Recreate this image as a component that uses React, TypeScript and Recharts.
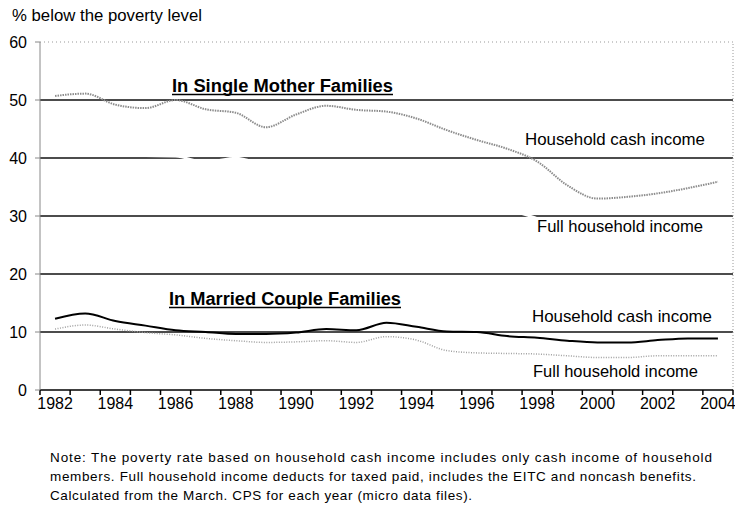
import { LineChart, Line, XAxis, YAxis, CartesianGrid, ReferenceLine } from 'recharts'

const years = [1982, 1983, 1984, 1985, 1986, 1987, 1988, 1989, 1990, 1991, 1992, 1993, 1994, 1995, 1996, 1997, 1998, 1999, 2000, 2001, 2002, 2003, 2004]
const singleCash = [50.7, 51.1, 49.2, 48.6, 50.0, 48.4, 47.8, 45.3, 47.5, 49.0, 48.3, 48.0, 46.8, 44.8, 43.1, 41.6, 39.4, 35.3, 33.0, 33.3, 33.9, 34.8, 35.9]
// drawn in white in the original, only visible where it cuts the gridlines
const singleFull = [41.0, 40.8, 40.4, 40.4, 40.3, 39.3, 40.0, 38.8, 38.5, 38.9, 38.4, 37.8, 36.5, 34.5, 33.2, 31.2, 29.6, 27.8, 26.7, 26.5, 26.8, 27.0, 27.5]
const marriedCash = [12.3, 13.2, 11.9, 11.1, 10.3, 10.0, 9.65, 9.65, 9.9, 10.5, 10.3, 11.6, 10.9, 10.1, 10.0, 9.3, 9.0, 8.5, 8.2, 8.2, 8.6, 8.9, 8.9]
const marriedFull = [10.5, 11.2, 10.5, 9.9, 9.5, 8.9, 8.5, 8.2, 8.3, 8.5, 8.2, 9.2, 8.6, 6.8, 6.4, 6.3, 6.2, 5.9, 5.6, 5.6, 5.9, 5.9, 5.9]
const yTicks = [0, 10, 20, 30, 40, 50, 60]
const gridValues = [10, 20, 30, 40, 50]
const yearLabels = [1982, 1984, 1986, 1988, 1990, 1992, 1994, 1996, 1998, 2000, 2002, 2004]

const noteLines = [
  'Note: The poverty rate based on household cash income includes only cash income of household',
  'members. Full household income deducts for taxed paid, includes the EITC and noncash benefits.',
  'Calculated from the March. CPS for each year (micro data files).',
]
const noteWidths = [662, 646, 422]

const FONT = '"Liberation Sans", Arial, sans-serif'
const PLOT_LEFT = 40
const PLOT_RIGHT = 733
const BAND = (PLOT_RIGHT - PLOT_LEFT) / years.length

const rows = years.map((year, i) => ({
  year,
  singleCash: singleCash[i],
  singleFull: singleFull[i],
  marriedCash: marriedCash[i],
  marriedFull: marriedFull[i],
}))

// tick marks sit on the year boundaries, labels in the middle of each year
const boundaryTicks = [...years.map(y => y - 0.5), years[years.length - 1] + 0.5]

function YearTick(props: any) {
  const { x, y, payload } = props
  const yr = payload.value + 0.5
  if (!yearLabels.includes(yr)) return <g />
  return (
    <text x={x + BAND / 2} y={y} dy="0.71em" textAnchor="middle" fontSize={16} fill="#000" fontFamily={FONT}>
      {yr}
    </text>
  )
}

export default function App() {
  return (
    <div style={{ position: 'absolute', left: 0, top: 0, width: 735, height: 506, background: '#fff', overflow: 'hidden', fontFamily: FONT }}>
      <div style={{ position: 'absolute', left: 0, top: 0 }}>
        <LineChart width={735} height={420} data={rows} margin={{ top: 42, right: 2, bottom: 0, left: 0 }}>
          <CartesianGrid vertical={false} horizontalValues={gridValues} stroke="#111" strokeWidth={1.6} />
          <ReferenceLine y={60} stroke="#999" strokeDasharray="1 3" />
          <ReferenceLine x={2004.5} stroke="#999" strokeDasharray="1 2" />
          <XAxis
            dataKey="year"
            type="number"
            domain={[1981.5, 2004.5]}
            ticks={boundaryTicks}
            interval={0}
            height={30}
            tickSize={5}
            tickMargin={3}
            stroke="#000"
            strokeWidth={1.5}
            tick={(p: any) => <YearTick {...p} />}
          />
          <YAxis
            domain={[0, 60]}
            ticks={yTicks}
            width={40}
            tickSize={5}
            tickMargin={8}
            stroke="#888"
            tick={{ fill: '#000', fontSize: 16, fontFamily: FONT }}
          />
          <Line type="monotone" dataKey="marriedFull" stroke="#a0a0a0" strokeWidth={1.5} strokeDasharray="1 1.5" dot={false} activeDot={false} isAnimationActive={false} />
          <Line type="monotone" dataKey="singleCash" stroke="#8c8c8c" strokeWidth={2} strokeDasharray="1.5 1" dot={false} activeDot={false} isAnimationActive={false} />
          <Line type="monotone" dataKey="marriedCash" stroke="#000" strokeWidth={2} dot={false} activeDot={false} isAnimationActive={false} />
          <Line type="monotone" dataKey="singleFull" stroke="#fff" strokeWidth={2.5} dot={false} activeDot={false} isAnimationActive={false} />
        </LineChart>
      </div>
      <svg width={735} height={506} style={{ position: 'absolute', left: 0, top: 0, pointerEvents: 'none' }} fontFamily={FONT}>
        <text x={12} y={21} fontSize={16.5} textLength={190} lengthAdjust="spacingAndGlyphs">% below the poverty level</text>

        <text x={172} y={91.5} fontSize={18} fontWeight="bold" textLength={221} lengthAdjust="spacingAndGlyphs">In Single Mother Families</text>
        <line x1={172} x2={393} y1={94.5} y2={94.5} stroke="#000" strokeWidth={1.5} />
        <text x={525} y={145} fontSize={16.5} textLength={180} lengthAdjust="spacingAndGlyphs">Household cash income</text>
        <text x={537} y={231.5} fontSize={16.5} textLength={166} lengthAdjust="spacingAndGlyphs">Full household income</text>

        <text x={169} y={305} fontSize={18} fontWeight="bold" textLength={232} lengthAdjust="spacingAndGlyphs">In Married Couple Families</text>
        <line x1={169} x2={401} y1={307.5} y2={307.5} stroke="#000" strokeWidth={1.5} />
        <text x={532} y={321.5} fontSize={16.5} textLength={180} lengthAdjust="spacingAndGlyphs">Household cash income</text>
        <text x={533} y={376.5} fontSize={16.5} textLength={165} lengthAdjust="spacingAndGlyphs">Full household income</text>

        {noteLines.map((t, i) => (
          <text key={i} x={50} y={462 + i * 19} fontSize={13.5} textLength={noteWidths[i]} lengthAdjust="spacing">{t}</text>
        ))}
      </svg>
    </div>
  )
}
